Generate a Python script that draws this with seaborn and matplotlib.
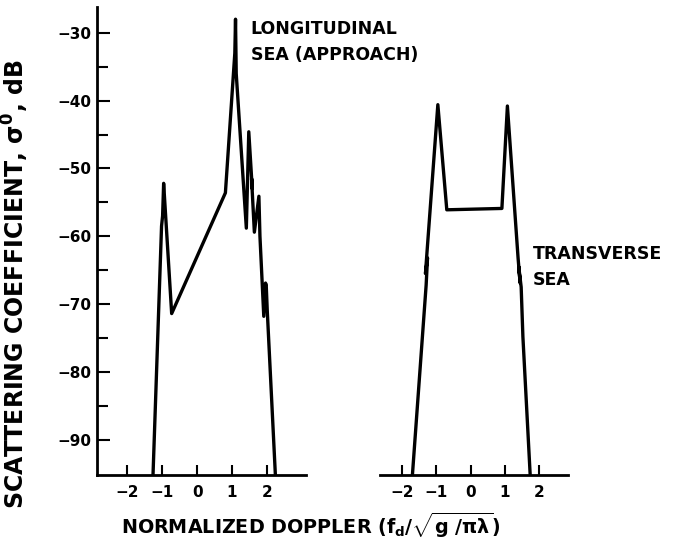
import matplotlib
matplotlib.use("Agg")
import matplotlib.pyplot as plt
import seaborn as sns
import pandas as pd

# Longitudinal sea (approach) Doppler spectrum
long_doppler = [-1.27, -1.02, -0.99, -0.96, -0.73, 0.81, 1.08, 1.10, 1.12, 1.41, 1.48,
                1.58, 1.56, 1.64, 1.77, 1.80, 1.91, 1.96, 1.98, 2.01, 2.25]
long_sigma = [-96.0, -58.5, -57.0, -52.2, -71.4, -53.6, -33.0, -28.0, -36.0, -58.8, -44.6,
              -53.0, -51.5, -59.4, -54.1, -60.0, -71.8, -66.9, -67.2, -71.0, -96.0]

# Transverse sea Doppler spectrum
trans_doppler = [-1.70, -1.29, -1.25, -1.31, -1.26, -0.95, -0.69, 0.91, 1.07,
                 1.38, 1.44, 1.40, 1.47, 1.52, 1.74]
trans_sigma = [-96.0, -67.2, -63.2, -65.5, -62.0, -40.6, -56.1, -55.9, -40.8,
               -63.2, -66.9, -64.5, -67.5, -74.8, -96.0]

x_ticks = [-2, -1, 0, 1, 2]
y_major = [-90, -80, -70, -60, -50, -40, -30]
y_minor = [-85, -75, -65, -55, -45, -35]

long_df = pd.DataFrame({"doppler": long_doppler, "sigma": long_sigma})
trans_df = pd.DataFrame({"doppler": trans_doppler, "sigma": trans_sigma})

sns.set_theme(style="white")
plt.rcParams["font.family"] = ["DejaVu Sans"]
plt.rcParams["font.weight"] = "bold"
plt.rcParams["text.color"] = "black"
plt.rcParams["xtick.color"] = "black"
plt.rcParams["ytick.color"] = "black"
plt.rcParams["mathtext.fontset"] = "custom"
plt.rcParams["mathtext.rm"] = "DejaVu Sans:bold"
plt.rcParams["mathtext.it"] = "DejaVu Sans:bold"
plt.rcParams["mathtext.bf"] = "DejaVu Sans:bold"

fig = plt.figure(figsize=(6.8, 5.46), dpi=100)
ax_l = fig.add_axes([97 / 680, 71 / 546, 209 / 680, 468 / 546])
ax_r = fig.add_axes([380 / 680, 71 / 546, 188 / 680, 468 / 546])

ylim = (-95.2, -26.2)
line_kw = dict(x="doppler", y="sigma", sort=False, estimator=None,
               color="black", linewidth=2.4)
sns.lineplot(data=long_df, ax=ax_l, **line_kw)
sns.lineplot(data=trans_df, ax=ax_r, **line_kw)

for ax in (ax_l, ax_r):
    ax.set_ylim(*ylim)
    ax.set_xlabel("")
    ax.set_ylabel("")
    ax.set_xticks(x_ticks)
    ax.set_xticklabels([f"{t:d}".replace("-", "\u2212") for t in x_ticks],
                       fontsize=11, fontweight="bold")
    ax.tick_params(axis="x", direction="in", length=7, width=1.5, pad=7,
                   bottom=True, top=False, color="black", labelcolor="black")
    for s in ("top", "right"):
        ax.spines[s].set_visible(False)
    ax.spines["bottom"].set_linewidth(2.0)
    ax.spines["bottom"].set_color("black")
    ax.patch.set_visible(False)

ax_l.set_xlim(-2.87, 3.12)
ax_r.set_xlim(-2.63, 2.83)

ax_l.spines["left"].set_linewidth(2.0)
ax_l.spines["left"].set_color("black")
ax_l.set_yticks(y_major)
ax_l.set_yticks(y_minor, minor=True)
ax_l.set_yticklabels([f"{t:d}".replace("-", "\u2212") for t in y_major],
                     fontsize=11, fontweight="bold")
ax_l.tick_params(axis="y", which="major", direction="in", length=9, width=1.5,
                 pad=4, left=True, color="black", labelcolor="black")
ax_l.tick_params(axis="y", which="minor", direction="in", length=8, width=1.5,
                 left=True, color="black")

ax_r.spines["left"].set_visible(False)
ax_r.set_yticks([])

ax_l.text(1.53, -29.5, "LONGITUDINAL", fontsize=12.5, fontweight="bold", va="center")
ax_l.text(1.53, -33.3, "SEA (APPROACH)", fontsize=12.5, fontweight="bold", va="center")
ax_r.text(1.82, -62.6, "TRANSVERSE", fontsize=12.5, fontweight="bold", va="center")
ax_r.text(1.82, -66.4, "SEA", fontsize=12.5, fontweight="bold", va="center")

fig.text(15 / 680, (546 - 284) / 546, r"SCATTERING COEFFICIENT, $\sigma^0$, dB",
         rotation=90, ha="center", va="center", fontsize=17, fontweight="bold")
fig.text(311 / 680, (546 - 525) / 546,
         r"NORMALIZED DOPPLER (f$_\mathrm{d}$/$\sqrt{\mathrm{g}\ /\pi\lambda}$)",
         ha="center", va="center", fontsize=13.8, fontweight="bold")

fig.savefig("out.png", dpi=100, facecolor="white")
